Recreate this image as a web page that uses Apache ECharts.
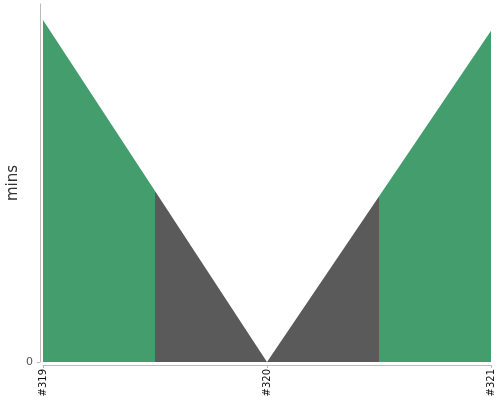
<!DOCTYPE html>
<html><head><meta charset="utf-8">
<script src="https://cdn.jsdelivr.net/npm/echarts@6/dist/echarts.min.js"></script>
<style>html,body{margin:0;padding:0;background:#fff}#c{width:500px;height:400px}</style>
</head><body><div id="c"></div>
<script>
var categories = ['#319', '#320', '#321'];
var values = [95.5, 0, 92.5];
var yMax = 100;
var FONT = 'DejaVu Sans';
var chart = echarts.init(document.getElementById('c'));
chart.setOption({
  animation: false,
  textStyle: {fontFamily: FONT},
  grid: {left: 43, right: 9, top: 4, bottom: 38, containLabel: false, outerBoundsMode: 'none'},
  visualMap: {
    show: false, type: 'piecewise', dimension: 0, seriesIndex: 0,
    pieces: [
      {lt: 0.5, color: '#439d6c'},
      {gte: 0.5, lt: 1.5, color: '#5a5a5a'},
      {gte: 1.5, color: '#439d6c'}
    ]
  },
  xAxis: {
    type: 'value', min: 0, max: categories.length - 1, interval: 1, offset: 3,
    axisLine: {onZero: false, lineStyle: {color: '#bbb'}},
    axisTick: {show: true, length: 3, lineStyle: {color: '#bbb'}},
    splitLine: {show: false},
    axisLabel: {rotate: 90, fontSize: 10, color: '#111', margin: 4, fontFamily: FONT,
      formatter: function (v) { return categories[v] || ''; }}
  },
  yAxis: {
    type: 'value', min: 0, max: yMax, interval: yMax, offset: 3,
    name: 'mins', nameLocation: 'middle', nameGap: 19, nameMoveOverlap: false,
    nameTextStyle: {fontSize: 15, color: '#333', fontFamily: FONT},
    axisLine: {show: true, onZero: false, lineStyle: {color: '#bbb'}},
    axisTick: {show: true, length: 3, lineStyle: {color: '#bbb'}},
    axisLabel: {showMaxLabel: false, fontSize: 11, color: '#555', margin: 7, fontFamily: FONT},
    splitLine: {show: false}
  },
  series: [{
    type: 'line', data: values.map(function (v, i) { return [i, v]; }),
    showSymbol: false, symbol: 'none',
    lineStyle: {width: 0},
    areaStyle: {opacity: 1}
  }]
});
</script></body></html>
